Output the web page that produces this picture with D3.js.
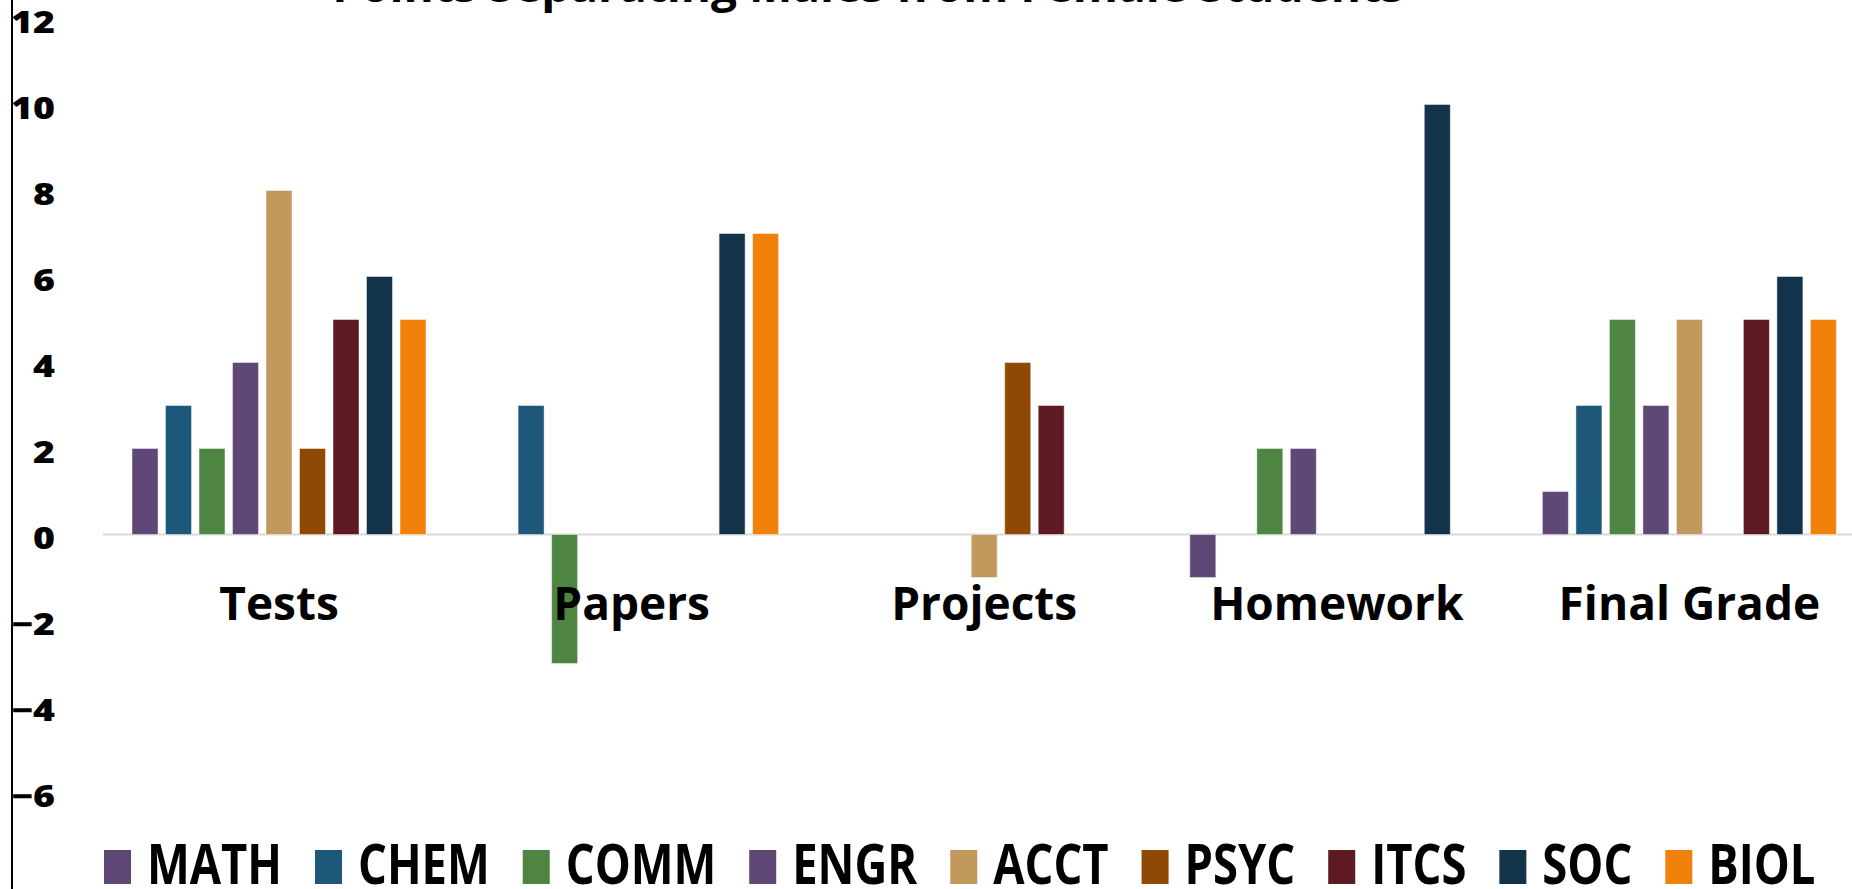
<!DOCTYPE html>
<html>
<head>
<meta charset="utf-8">
<script src="https://cdn.jsdelivr.net/npm/d3@7"></script>
<style>
  html, body { margin: 0; padding: 0; background: #fff; overflow: hidden; }
  svg { display: block; }
</style>
</head>
<body>
<svg id="chart" width="1852" height="889"></svg>
<script>
// Point gaps by course and assessment type
const categories = ["Tests", "Papers", "Projects", "Homework", "Final Grade"];
const series = ["MATH", "CHEM", "COMM", "ENGR", "ACCT", "PSYC", "ITCS", "SOC", "BIOL"];
const seriesColors = ["#5f4876", "#1d5779", "#4f8542", "#5f4876", "#c2995c", "#8e4a05", "#5e1a23", "#12334a", "#f0820a"];

const math = [2, 0, 0, -1, 1];
const chem = [3, 3, 0, 0, 3];
const comm = [2, -3, 0, 2, 5];
const engr = [4, 0, 0, 2, 3];
const acct = [8, 0, -1, 0, 5];
const psyc = [2, 0, 4, 0, 0];
const itcs = [5, 0, 3, 0, 5];
const soc  = [6, 7, 0, 10, 6];
const biol = [5, 7, 0, 0, 5];

const yTicks = [12, 10, 8, 6, 4, 2, 0, -2, -4, -6];
const titleText = "Points Separating Males from Female Students";

const seriesValues = [math, chem, comm, engr, acct, psyc, itcs, soc, biol];

const W = 1852, H = 889;
const svg = d3.select("#chart");

const x0 = d3.scaleBand()
  .domain(categories)
  .range([102.7, 102.7 + 5 * 352.6])
  .paddingInner(0.145)
  .paddingOuter(0.0725);

const x1 = d3.scaleBand()
  .domain(series)
  .range([0, x0.bandwidth()])
  .paddingInner(0.224)
  .paddingOuter(0.112);

const y = d3.scaleLinear().domain([-8, 12]).range([878.5, 18.5]);

const color = d3.scaleOrdinal().domain(series).range(seriesColors);

// Title (sits partly above the visible area)
svg.append("text")
  .attr("x", 868)
  .attr("y", 1.5)
  .attr("text-anchor", "middle")
  .attr("font-family", "'Open Sans', sans-serif")
  .attr("font-weight", 700)
  .attr("font-size", 46)
  .attr("fill", "#000")
  .text(titleText);

// Zero baseline
svg.append("line")
  .attr("x1", x0.range()[0]).attr("x2", W)
  .attr("y1", y(0)).attr("y2", y(0))
  .attr("stroke", "#d9d9d9")
  .attr("stroke-width", 2);

// Bars
const rows = [];
categories.forEach((c, ci) => {
  series.forEach((s, si) => {
    const v = seriesValues[si][ci];
    if (v !== 0) rows.push({ cat: c, ser: s, value: v });
  });
});

svg.append("g")
  .selectAll("rect")
  .data(rows)
  .join("rect")
  .attr("x", d => x0(d.cat) + x1(d.ser))
  .attr("width", x1.bandwidth())
  .attr("y", d => Math.min(y(d.value), y(0)))
  .attr("height", d => Math.abs(y(d.value) - y(0)))
  .attr("fill", d => color(d.ser))
  .attr("stroke", "rgba(255,255,255,0.45)")
  .attr("stroke-width", 1);

// Category axis
const xAxis = svg.append("g")
  .attr("transform", `translate(0,${y(0)})`)
  .call(d3.axisBottom(x0).tickSize(0).tickPadding(0));
xAxis.select(".domain").remove();
xAxis.selectAll("text")
  .attr("y", 85.5)
  .attr("dy", 0)
  .attr("font-family", "'Open Sans', sans-serif")
  .attr("font-weight", 700)
  .attr("font-size", 46)
  .attr("fill", "#000");

// Value axis
const yAxisX = 12;
const yAxis = svg.append("g")
  .attr("transform", `translate(${yAxisX},0)`)
  .call(d3.axisLeft(y).tickValues(yTicks).tickSize(0).tickFormat(d3.format("d")));
yAxis.select(".domain").remove();
yAxis.selectAll(".tick text")
  .attr("x", 0)
  .attr("dy", 0)
  .attr("y", 13.5)
  .attr("text-anchor", "end")
  .attr("font-family", "'Open Sans', sans-serif")
  .attr("font-weight", 800)
  .attr("font-size", 30)
  .attr("fill", "#000")
  .attr("transform", "translate(43,0) scale(1.25,1)");

svg.append("line")
  .attr("x1", yAxisX).attr("x2", yAxisX)
  .attr("y1", 0).attr("y2", H)
  .attr("stroke", "#000")
  .attr("stroke-width", 2);

// Legend
const legend = svg.append("g");
const legendScaleX = 0.81;
let lx = 104;
series.forEach((s, i) => {
  legend.append("rect")
    .attr("x", lx).attr("y", 850)
    .attr("width", 27).attr("height", 34)
    .attr("fill", seriesColors[i]);
  const t = legend.append("text")
    .attr("x", 0).attr("y", 0)
    .attr("font-family", "'Open Sans', sans-serif")
    .attr("font-weight", 700)
    .attr("font-size", 56)
    .attr("fill", "#000")
    .attr("transform", `translate(${lx + 43},884) scale(${legendScaleX},1)`)
    .text(s);
  const w = t.node().getComputedTextLength() * legendScaleX;
  lx += 43 + w + 33;
});
</script>
</body>
</html>
